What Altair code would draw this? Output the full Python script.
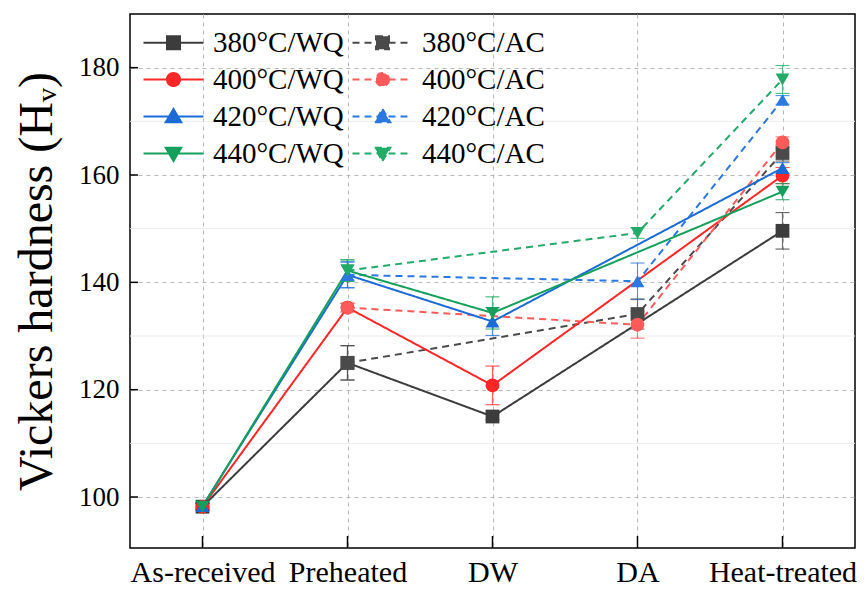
import json
import altair as alt
import pandas as pd

# ---------------- data ----------------
stages = ["As-received", "Preheated", "DW", "DA", "Heat-treated"]

series_names = ["380°C/WQ", "380°C/AC", "400°C/WQ", "400°C/AC",
                "420°C/WQ", "420°C/AC", "440°C/WQ", "440°C/AC"]
series_colors = ["#3c3c3c", "#4a4a4a", "#ff2626", "#ff5a5a",
                 "#1a6bd6", "#2a78e0", "#14a05c", "#22aa68"]
series_dashes = [[1, 0], [7, 5], [1, 0], [7, 5], [1, 0], [7, 5], [1, 0], [7, 5]]
series_markers = ["square", "square", "circle", "circle",
                  "triangle-up", "triangle-up", "triangle-down", "triangle-down"]
legend_paths = [
    "M-4.6,0H4.6M-1,-1H1V1H-1Z",
    "M-4.6,0H4.6M-1,-1H1V1H-1Z",
    "M-4.6,0H4.6M1,0A1,1,0,1,1,-1,0A1,1,0,1,1,1,0Z",
    "M-4.6,0H4.6M1,0A1,1,0,1,1,-1,0A1,1,0,1,1,1,0Z",
    "M-4.6,0H4.6M0,-1.15L1.2,0.9L-1.2,0.9Z",
    "M-4.6,0H4.6M0,-1.15L1.2,0.9L-1.2,0.9Z",
    "M-4.6,0H4.6M0,1.15L1.2,-0.9L-1.2,-0.9Z",
    "M-4.6,0H4.6M0,1.15L1.2,-0.9L-1.2,-0.9Z",
]

# WQ route: As-received, Preheated, DW, Heat-treated
wq_stage_idx = [0, 1, 2, 4]
hv_380_wq = [98.2, 125.0, 115.0, 149.6]
err_380_wq = [0.6, 3.2, 0.6, 3.4]
hv_400_wq = [98.2, 135.3, 120.8, 159.9]
err_400_wq = [0.6, 0.8, 3.6, 1.5]
hv_420_wq = [98.3, 141.4, 132.7, 161.3]
err_420_wq = [0.6, 2.4, 2.6, 1.0]
hv_440_wq = [98.2, 142.2, 134.3, 156.9]
err_440_wq = [0.6, 2.0, 3.0, 1.5]

# AC route: Preheated, DA, Heat-treated
ac_stage_idx = [1, 3, 4]
hv_380_ac = [125.0, 134.1, 164.1]
err_380_ac = [3.2, 2.8, 1.5]
hv_400_ac = [135.3, 132.1, 166.1]
err_400_ac = [0.8, 2.5, 1.0]
hv_420_ac = [141.4, 140.2, 174.0]
err_420_ac = [2.4, 3.4, 0.8]
hv_440_ac = [142.2, 149.2, 177.8]
err_440_ac = [2.0, 1.0, 2.6]

y_major = [100, 120, 140, 160, 180]
y_minor = [110, 130, 150, 170]

# ---------------- build table ----------------
route_data = {
    "380°C/WQ": (wq_stage_idx, hv_380_wq, err_380_wq),
    "380°C/AC": (ac_stage_idx, hv_380_ac, err_380_ac),
    "400°C/WQ": (wq_stage_idx, hv_400_wq, err_400_wq),
    "400°C/AC": (ac_stage_idx, hv_400_ac, err_400_ac),
    "420°C/WQ": (wq_stage_idx, hv_420_wq, err_420_wq),
    "420°C/AC": (ac_stage_idx, hv_420_ac, err_420_ac),
    "440°C/WQ": (wq_stage_idx, hv_440_wq, err_440_wq),
    "440°C/AC": (ac_stage_idx, hv_440_ac, err_440_ac),
}
rows = []
for i, name in enumerate(series_names):
    idx, vals, errs = route_data[name]
    for s, v, e in zip(idx, vals, errs):
        rows.append({"series": name, "stage": s, "hv": v, "err": e,
                     "marker": series_markers[i], "order": i})
df = pd.DataFrame(rows)

W, H = 725, 534
FONT = "Liberation Serif"

x_enc = alt.X("stage:Q",
              scale=alt.Scale(domain=[-0.5, 4.5], nice=False, zero=False),
              axis=alt.Axis(values=list(range(len(stages))),
                            labelExpr=json.dumps(stages) + "[datum.value]",
                            title=None, ticks=False, domain=False,
                            labelFont=FONT, labelFontSize=30, labelColor="black",
                            labelPadding=9, grid=True, gridDash=[4, 4],
                            gridColor="#b8b8b8", gridWidth=1))
y_scale = alt.Scale(domain=[90.5, 190], nice=False, zero=False)
y_enc = alt.Y("hv:Q", scale=y_scale,
              axis=alt.Axis(values=y_major, title="Vickers hardness (Hᵥ)",
                            ticks=False, domain=False,
                            labelFont=FONT, labelFontSize=27, labelColor="black",
                            labelPadding=11, titleFont=FONT, titleFontSize=48,
                            titleFontWeight="normal", titleColor="black",
                            titlePadding=17, grid=True, gridDash=[4, 4],
                            gridColor="#b8b8b8", gridWidth=1))

color_scale = alt.Scale(domain=series_names, range=series_colors)
stroke_scale = alt.Scale(domain=series_names, range=series_colors)
dash_scale = alt.Scale(domain=series_names, range=series_dashes)
shape_scale = alt.Scale(domain=series_names, range=legend_paths)

base = alt.Chart(df)

leg = alt.Legend(orient="none", legendX=29, legendY=14, columns=2,
                 direction="horizontal",
                 columnPadding=4, rowPadding=7, labelOffset=25,
                 symbolSize=170, symbolStrokeWidth=2, padding=0,
                 labelFont=FONT, labelFontSize=29, labelColor="black",
                 title=None)
# legend-only layer (no marks drawn): carries the merged legend
legend_layer = base.transform_filter("false").mark_point(
    filled=True, opacity=1, strokeWidth=2).encode(
    x="stage:Q", y=alt.Y("hv:Q", scale=y_scale),
    color=alt.Color("series:N", scale=color_scale, legend=leg),
    stroke=alt.Stroke("series:N", scale=stroke_scale, legend=leg),
    shape=alt.Shape("series:N", scale=shape_scale, legend=leg),
    strokeDash=alt.StrokeDash("series:N", scale=dash_scale, legend=leg),
)

minor = alt.Chart(pd.DataFrame({"v": y_minor})).mark_rule(
    color="#ececec", strokeWidth=1).encode(y=alt.Y("v:Q", scale=y_scale))

lines = base.mark_line(strokeWidth=2).encode(
    x=x_enc, y=y_enc,
    color=alt.Color("series:N", scale=color_scale),
    strokeDash=alt.StrokeDash("series:N", scale=dash_scale),
    detail="series:N",
    order="stage:Q",
)

err_base = base.transform_calculate(lo="datum.hv - datum.err", hi="datum.hv + datum.err")
err_rule = err_base.mark_rule(strokeWidth=1.2, opacity=0.75).encode(
    x="stage:Q", y=alt.Y("lo:Q", scale=y_scale), y2="hi:Q",
    color=alt.Color("series:N", scale=color_scale))
cap_lo = err_base.mark_tick(orient="horizontal", size=14, thickness=1.2, opacity=0.75).encode(
    x="stage:Q", y=alt.Y("lo:Q", scale=y_scale),
    color=alt.Color("series:N", scale=color_scale))
cap_hi = err_base.mark_tick(orient="horizontal", size=14, thickness=1.2, opacity=0.75).encode(
    x="stage:Q", y=alt.Y("hi:Q", scale=y_scale),
    color=alt.Color("series:N", scale=color_scale))

point_layers = []
for shp in ["square", "circle", "triangle-up", "triangle-down"]:
    point_layers.append(
        base.transform_filter(alt.datum.marker == shp).mark_point(
            shape=shp, filled=True, size=190, opacity=1).encode(
            x="stage:Q", y=alt.Y("hv:Q", scale=y_scale),
            color=alt.Color("series:N", scale=color_scale)))

ytick_layer = alt.Chart(pd.DataFrame({"v": y_major})).mark_rule(
    color="black", strokeWidth=1.5).encode(
    y=alt.Y("v:Q", scale=y_scale), x=alt.value(0), x2=alt.value(8))
xtick_layer = alt.Chart(pd.DataFrame({"v": list(range(len(stages)))})).mark_rule(
    color="black", strokeWidth=1.5).encode(
    x=alt.X("v:Q"), y=alt.value(H), y2=alt.value(H - 12))

chart = alt.layer(
    legend_layer, minor, lines, err_rule, cap_lo, cap_hi, *point_layers,
    ytick_layer, xtick_layer,
).properties(
    width=W, height=H,
    autosize=alt.AutoSizeParams(type="none"),
    padding={"left": 122, "top": 6, "right": 2, "bottom": 42},
    background="white",
).configure_view(stroke="black", strokeWidth=1.5)

chart.save("out.html", embed_options={"renderer": "svg", "actions": False})
